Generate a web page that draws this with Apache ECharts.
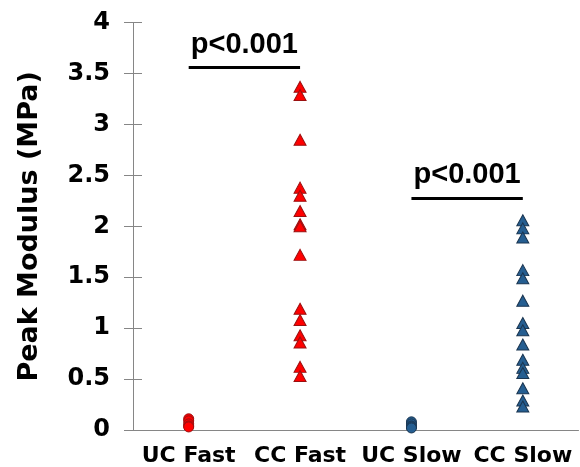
<!DOCTYPE html>
<html>
<head>
<meta charset="utf-8">
<script src="https://cdn.jsdelivr.net/npm/echarts@6/dist/echarts.min.js"></script>
<style>
  html, body { margin: 0; padding: 0; background: #fff; }
  #container { width: 580px; height: 467px; }
</style>
</head>
<body>
<div id="container"></div>
<script>
let chart = echarts.init(document.getElementById('container'));

// groups on the x axis
var groups = ['UC Fast', 'CC Fast', 'UC Slow', 'CC Slow'];

// peak modulus values (MPa)
var ucFast = [0.11, 0.09, 0.06, 0.04, 0.03];
var ccFast = [3.37, 3.29, 2.85, 2.38, 2.30, 2.15, 2.02, 2.00, 1.72, 1.19, 1.08, 0.93, 0.86, 0.62, 0.53];
var ucSlow = [0.08, 0.06, 0.04, 0.03, 0.02];
var ccSlow = [2.06, 1.98, 1.89, 1.57, 1.49, 1.27, 1.05, 0.98, 0.84, 0.69, 0.61, 0.56, 0.41, 0.29, 0.23];

// significance brackets: [from group, to group, height]
var brackets = [
    ['UC Fast', 'CC Fast', 3.56],
    ['UC Slow', 'CC Slow', 2.28],
];
var pText = 'p<0.001';

var red = { color: '#ff0000', borderColor: '#9a1010', borderWidth: 1, opacity: 1 };
var blue = { color: '#255e91', borderColor: '#1a3550', borderWidth: 1, opacity: 1 };

function points(group, values) {
    return values.map(v => [group, v]);
}

function scatter(group, values, symbol, style) {
    return {
        type: 'scatter',
        symbol: symbol,
        symbolSize: symbol == 'triangle' ? [12, 11] : [10, 10],
        itemStyle: style,
        animation: false,
        data: points(group, values),
    };
}

var bracketLines = brackets.map(b => [
    { coord: [b[0], b[2]] },
    { coord: [b[1], b[2]] },
]);

var series = [
    scatter('UC Fast', ucFast, 'circle', red),
    scatter('CC Fast', ccFast, 'triangle', red),
    scatter('UC Slow', ucSlow, 'circle', blue),
    scatter('CC Slow', ccSlow, 'triangle', blue),
];
series[0].markLine = {
    silent: true,
    animation: false,
    symbol: ['none', 'none'],
    lineStyle: { color: '#000', width: 3, type: 'solid' },
    label: {
        show: true,
        position: 'middle',
        formatter: pText,
        color: '#000',
        fontFamily: 'Liberation Sans',
        fontWeight: 'bold',
        fontSize: 29,
        distance: 8,
    },
    data: bracketLines,
};

var tickStyle = { color: '#868686', width: 1 };

var option = {
    grid: {
        left: 133,
        right: 1.5,
        top: 22.7,
        bottom: 37,
        outerBoundsMode: 'none',
    },
    xAxis: {
        type: 'category',
        data: groups,
        boundaryGap: true,
        axisLine: { lineStyle: tickStyle },
        axisTick: { show: false },
        axisLabel: {
            interval: 0,
            color: '#000',
            fontFamily: 'DejaVu Sans',
            fontWeight: 'bold',
            fontSize: 22,
            margin: 15,
        },
    },
    yAxis: [{
        type: 'value',
        min: 0,
        max: 4,
        interval: 0.5,
        name: 'Peak Modulus (MPa)',
        nameLocation: 'middle',
        nameGap: 90,
        nameTextStyle: {
            color: '#000',
            fontFamily: 'DejaVu Sans',
            fontWeight: 'bold',
            fontSize: 27,
        },
        splitLine: { show: false },
        axisLine: { show: true, lineStyle: tickStyle },
        axisTick: { show: true, length: 9, lineStyle: tickStyle },
        axisLabel: {
            color: '#000',
            fontFamily: 'DejaVu Sans',
            fontWeight: 'bold',
            fontSize: 24,
            margin: 23,
        },
    }, {
        // inside half of the crossing ticks
        type: 'value',
        position: 'left',
        min: 0,
        max: 4,
        interval: 0.5,
        splitLine: { show: false },
        axisLine: { show: false },
        axisTick: { show: true, inside: true, length: 9, lineStyle: tickStyle },
        axisLabel: { show: false },
    }],
    series: series,
};
chart.setOption(option);
</script>
</body>
</html>
